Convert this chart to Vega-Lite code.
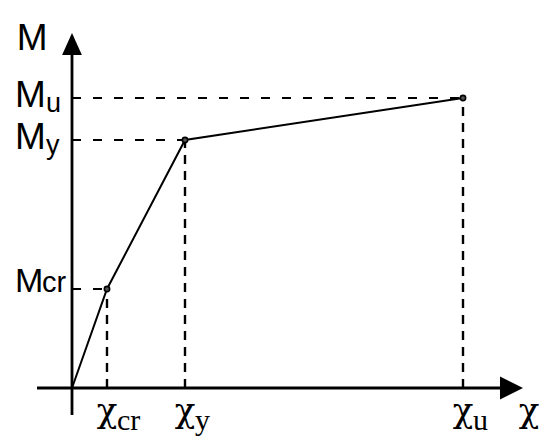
{
  "$schema": "https://vega.github.io/schema/vega-lite/v6.json",
  "width": 550,
  "height": 447,
  "padding": 0,
  "autosize": {"type": "fit", "contains": "padding"},
  "background": "white",
  "config": {"view": {"stroke": null}},
  "datasets": {
    "pts": [
      {"name": "cr", "chi": 0.895, "m": 3.414, "zero": 0},
      {"name": "y", "chi": 2.89, "m": 8.552, "zero": 0},
      {"name": "u", "chi": 10.0, "m": 10.0, "zero": 0}
    ],
    "curve": [
      {"chi": 0, "m": 0},
      {"chi": 0.895, "m": 3.414},
      {"chi": 2.89, "m": 8.552},
      {"chi": 10.0, "m": 10.0}
    ],
    "axes": [
      {"x": -0.895, "x2": 11.07, "y": 0, "y2": 0},
      {"x": 0, "x2": 0, "y": -0.931, "y2": 11.655}
    ],
    "titles": [
      {"label": "M", "x": -1.02, "y": 11.655, "ax": 0, "ay": 11.862},
      {"label": "χ", "x": 11.69, "y": 0, "ax": 11.24, "ay": 0}
    ]
  },
  "layer": [
    {
      "data": {"name": "axes"},
      "mark": {"type": "rule", "stroke": "black", "strokeWidth": 2.8},
      "encoding": {
        "x": {"field": "x", "type": "quantitative", "scale": {"domain": [-1.8414, 12.2251], "nice": false, "zero": false}, "axis": null},
        "x2": {"field": "x2"},
        "y": {"field": "y", "type": "quantitative", "scale": {"domain": [-2.0345, 13.3793], "nice": false, "zero": false}, "axis": null},
        "y2": {"field": "y2"}
      }
    },
    {
      "data": {"name": "titles"},
      "transform": [{"filter": "datum.label == 'χ'"}],
      "mark": {"type": "point", "shape": "M-1,-1L1,0L-1,1Z", "size": 529, "filled": true, "fill": "black", "strokeWidth": 0, "opacity": 1},
      "encoding": {
        "x": {"field": "ax", "type": "quantitative"},
        "y": {"field": "ay", "type": "quantitative"}
      }
    },
    {
      "data": {"name": "titles"},
      "transform": [{"filter": "datum.label == 'M'"}],
      "mark": {"type": "point", "shape": "M0,-1L0.9,1L-0.9,1Z", "size": 484, "filled": true, "fill": "black", "strokeWidth": 0, "opacity": 1},
      "encoding": {
        "x": {"field": "ax", "type": "quantitative"},
        "y": {"field": "ay", "type": "quantitative"}
      }
    },
    {
      "data": {"name": "pts"},
      "mark": {"type": "rule", "stroke": "black", "strokeWidth": 2, "strokeDash": [9, 12]},
      "encoding": {
        "x": {"field": "zero", "type": "quantitative"},
        "x2": {"field": "chi"},
        "y": {"field": "m", "type": "quantitative"}
      }
    },
    {
      "data": {"name": "pts"},
      "mark": {"type": "rule", "stroke": "black", "strokeWidth": 2.4, "strokeDash": [9, 7]},
      "encoding": {
        "x": {"field": "chi", "type": "quantitative"},
        "y": {"field": "zero", "type": "quantitative"},
        "y2": {"field": "m"}
      }
    },
    {
      "data": {"name": "curve"},
      "mark": {"type": "line", "stroke": "black", "strokeWidth": 2},
      "encoding": {
        "x": {"field": "chi", "type": "quantitative"},
        "y": {"field": "m", "type": "quantitative"},
        "order": {"field": "chi", "type": "quantitative"}
      }
    },
    {
      "data": {"name": "pts"},
      "mark": {"type": "point", "shape": "circle", "size": 28, "filled": true, "fill": "#555555", "stroke": "black", "strokeWidth": 1.6, "opacity": 1},
      "encoding": {
        "x": {"field": "chi", "type": "quantitative"},
        "y": {"field": "m", "type": "quantitative"}
      }
    },
    {
      "data": {"name": "titles"},
      "transform": [{"filter": "datum.label == 'M'"}],
      "mark": {"type": "text", "font": "Liberation Sans", "fontSize": 37, "align": "center", "baseline": "alphabetic", "color": "black"},
      "encoding": {
        "x": {"field": "x", "type": "quantitative"},
        "y": {"field": "y", "type": "quantitative"},
        "text": {"field": "label"}
      }
    },
    {
      "data": {"name": "titles"},
      "transform": [{"filter": "datum.label == 'χ'"}],
      "mark": {"type": "text", "font": "DejaVu Serif", "fontSize": 34, "align": "center", "baseline": "alphabetic", "dy": 34, "color": "black"},
      "encoding": {
        "x": {"field": "x", "type": "quantitative"},
        "y": {"field": "y", "type": "quantitative"},
        "text": {"field": "label"}
      }
    },
    {
      "data": {"name": "pts"},
      "transform": [{"filter": "datum.name != 'cr'"}],
      "mark": {"type": "text", "font": "Liberation Sans", "fontSize": 37, "align": "left", "baseline": "alphabetic", "dx": -57, "dy": 9, "color": "black", "text": "M"},
      "encoding": {
        "x": {"field": "zero", "type": "quantitative"},
        "y": {"field": "m", "type": "quantitative"}
      }
    },
    {
      "data": {"name": "pts"},
      "transform": [{"filter": "datum.name == 'cr'"}],
      "mark": {"type": "text", "font": "Liberation Sans", "fontSize": 34, "align": "left", "baseline": "alphabetic", "dx": -57, "dy": 3, "color": "black", "text": "M"},
      "encoding": {
        "x": {"field": "zero", "type": "quantitative"},
        "y": {"field": "m", "type": "quantitative"}
      }
    },
    {
      "data": {"name": "pts"},
      "transform": [{"filter": "datum.name != 'cr'"}],
      "mark": {"type": "text", "font": "Liberation Sans", "fontSize": 27, "align": "left", "baseline": "alphabetic", "dx": -26, "dy": 14, "color": "black"},
      "encoding": {
        "x": {"field": "zero", "type": "quantitative"},
        "y": {"field": "m", "type": "quantitative"},
        "text": {"field": "name"}
      }
    },
    {
      "data": {"name": "pts"},
      "transform": [{"filter": "datum.name == 'cr'"}],
      "mark": {"type": "text", "font": "Liberation Sans", "fontSize": 29, "align": "left", "baseline": "alphabetic", "dx": -30, "dy": 3, "color": "black"},
      "encoding": {
        "x": {"field": "zero", "type": "quantitative"},
        "y": {"field": "m", "type": "quantitative"},
        "text": {"field": "name"}
      }
    },
    {
      "data": {"name": "pts"},
      "mark": {"type": "text", "font": "DejaVu Serif", "fontSize": 34, "align": "center", "baseline": "alphabetic", "dy": 34, "color": "black", "text": "χ"},
      "encoding": {
        "x": {"field": "chi", "type": "quantitative"},
        "y": {"field": "zero", "type": "quantitative"}
      }
    },
    {
      "data": {"name": "pts"},
      "mark": {"type": "text", "font": "Liberation Serif", "fontSize": 30, "align": "left", "baseline": "alphabetic", "dx": 10, "dy": 42, "color": "black"},
      "encoding": {
        "x": {"field": "chi", "type": "quantitative"},
        "y": {"field": "zero", "type": "quantitative"},
        "text": {"field": "name"}
      }
    }
  ]
}
